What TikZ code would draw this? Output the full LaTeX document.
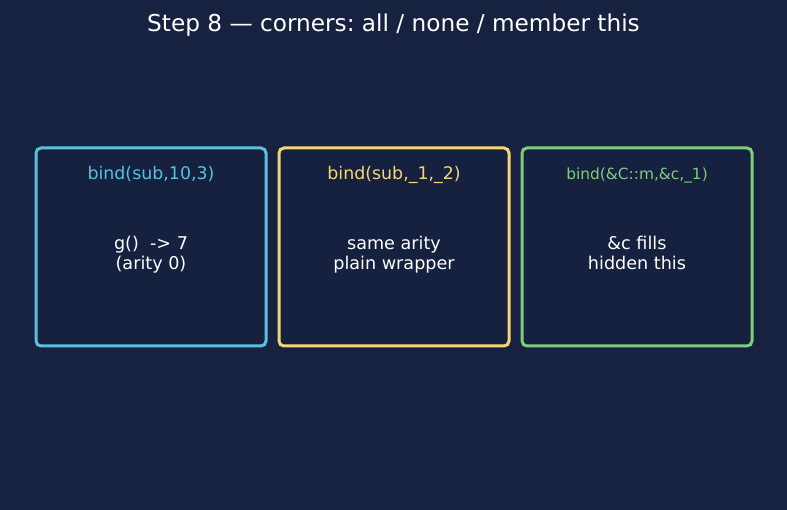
\documentclass[tikz,border=0pt]{standalone}
\usepackage{fontspec}
\setmainfont{DejaVu Sans}
\usetikzlibrary{positioning}
\definecolor{bgnavy}{HTML}{172140}
\definecolor{cardfill}{HTML}{16203F}
\definecolor{bcyan}{HTML}{58C2DE}
\definecolor{byellow}{HTML}{F4D774}
\definecolor{bgreen}{HTML}{7FCD7C}
\frenchspacing

\begin{document}
\begin{tikzpicture}[x=1pt, y=-1pt,
		card/.style = {rectangle, draw=#1, fill=cardfill, line width=3pt, rounded corners=5pt, minimum width=230pt, minimum height=198pt, inner sep=0pt},
		head/.style = {text=#1, anchor=base, font=\fontsize{17.4}{20}\selectfont, inner sep=0pt},
		body/.style = {text=white, anchor=base, align=center, font=\fontsize{17.6}{20.5}\selectfont, inner sep=0pt}
		]
		\fill[bgnavy] (0,0) rectangle (787,510);
		\useasboundingbox (0,0) rectangle (787,510);
		
		%Title
		\node[text=white, anchor=base, font=\fontsize{23.2}{26}\selectfont, inner sep=0pt]	(title)	at	(393.5,31.5)	{Step 8 — corners: all / none / member this};
		
		%Cards
		\node[card=bcyan]	(bval)	at	(151,247)	{};
		\node[card=byellow]	(bph)	at	(394,247)	{};
		\node[card=bgreen]	(bmem)	at	(637,247)	{};
		
		%Heads
		\node[head=bcyan]	(hval)	at	(151,180)	{bind(sub,10,3)};
		\node[head=byellow]	(hph)	at	(394,180)	{bind(sub,\_1,\_2)};
		\node[head=bgreen, font=\fontsize{15.4}{18}\selectfont]	(hmem)	at	(637,179.5)	{bind(\&C::m,\&c,\_1)};
		
		%Bodies (base = last line)
		\node[body]	(tval)	at	(151,270)	{g()\ \ -> 7\\(arity 0)};
		\node[body]	(tph)	at	(394,270)	{same arity\\plain wrapper};
		\node[body]	(tmem)	at	(637,270)	{\&c fills\\hidden this};
	\end{tikzpicture}
\end{document}
